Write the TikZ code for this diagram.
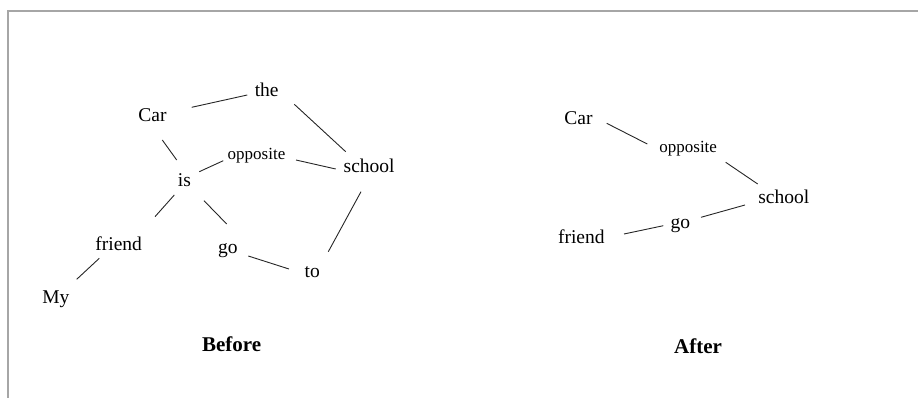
\documentclass[tikz,border=0pt]{standalone}
\usepackage{fontspec}
\setmainfont{Liberation Serif}
\begin{document}
\begin{tikzpicture}[x=1pt,y=-1pt,
  word/.style={inner sep=0pt,anchor=base,font=\fontsize{19.5}{23}\selectfont},
  smallword/.style={inner sep=0pt,anchor=base,font=\fontsize{17}{20}\selectfont},
  caption/.style={inner sep=0pt,anchor=base,font=\fontsize{21}{25}\selectfont\bfseries},
  link/.style={line width=0.9pt,draw=black!85}]
\useasboundingbox (0,0) rectangle (918,398);
% frame (top and left edges only)
\draw[black!35,line width=2pt] (7.5,398) -- (7.5,11) -- (918,11);

% ---- Before ----
\node[word] (bcar) at (152.5,121.7) {Car};
\node[word] (bthe) at (266.7,96.7) {the};
\node[smallword] (bopp) at (256.5,159.3) {opposite};
\node[word] (bschool) at (369.2,172.7) {school};
\node[word] (bis) at (184.5,186.7) {is};
\node[word] (bfriend) at (118.7,250) {friend};
\node[word] (bgo) at (227.8,253.3) {go};
\node[word] (bto) at (312.2,277.3) {to};
\node[word] (bmy) at (55.8,303.3) {My};
\node[caption] (before) at (231.7,351.7) {Before};

\draw[link] ([shift={(39.2,-14.4)}]bcar.base) -- ([shift={(-19.4,-1.7)}]bthe.base);
\draw[link] ([shift={(27.6,7.6)}]bthe.base) -- ([shift={(-23.5,-21)}]bschool.base);
\draw[link] ([shift={(9.8,18.3)}]bcar.base) -- ([shift={(-7.8,-26.7)}]bis.base);
\draw[link] ([shift={(14.8,-15)}]bis.base) -- ([shift={(-33.2,1.4)}]bopp.base);
\draw[link] ([shift={(39.5,0.7)}]bopp.base) -- ([shift={(-33.5,-3.7)}]bschool.base);
\draw[link] ([shift={(-10.2,8.3)}]bis.base) -- ([shift={(36.3,-33.3)}]bfriend.base);
\draw[link] ([shift={(19.5,14)}]bis.base) -- ([shift={(-1.1,-29.3)}]bgo.base);
\draw[link] ([shift={(-8.2,19)}]bschool.base) -- ([shift={(16.1,-25.6)}]bto.base);
\draw[link] ([shift={(20.5,2.7)}]bgo.base) -- ([shift={(-23.2,-8.3)}]bto.base);
\draw[link] ([shift={(-19.4,8.3)}]bfriend.base) -- ([shift={(20.9,-24)}]bmy.base);

% ---- After ----
\node[word] (acar) at (578.5,125) {Car};
\node[smallword] (aopp) at (688.2,152.7) {opposite};
\node[word] (aschool) at (783.8,204) {school};
\node[word] (ago) at (680.3,228.3) {go};
\node[word] (afriend) at (581.3,243.3) {friend};
\node[caption] (after) at (698,353.3) {After};

\draw[link] ([shift={(28.2,-1.7)}]acar.base) -- ([shift={(-40.9,-8.7)}]aopp.base);
\draw[link] ([shift={(37.5,9.6)}]aopp.base) -- ([shift={(-26.1,-20)}]aschool.base);
\draw[link] ([shift={(42.7,-9.3)}]afriend.base) -- ([shift={(-17,-2.6)}]ago.base);
\draw[link] ([shift={(20.7,-11)}]ago.base) -- ([shift={(-38.8,1)}]aschool.base);
\end{tikzpicture}
\end{document}
